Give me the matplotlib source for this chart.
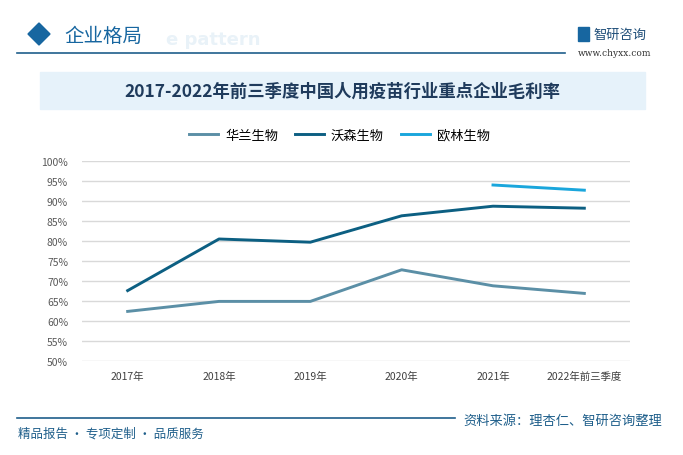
import matplotlib.pyplot as plt
from matplotlib.patches import Rectangle, Polygon

plt.rcParams['font.family'] = ['Noto Sans CJK SC', 'DejaVu Sans']

# data
years = ['2017年', '2018年', '2019年', '2020年', '2021年', '2022年前三季度']
hualan = [62.4, 64.9, 64.9, 72.8, 68.8, 66.9]
wosen = [67.6, 80.5, 79.7, 86.3, 88.7, 88.2]
oulin_years = ['2021年', '2022年前三季度']
oulin = [94.0, 92.7]
yticks = [50, 55, 60, 65, 70, 75, 80, 85, 90, 95, 100]

W, H = 683, 456
fig = plt.figure(figsize=(W / 100, H / 100), dpi=100)

def fx(x):
    return x / W

def fy(y):
    return 1 - y / H

# header
fig.text(fx(166), fy(40), 'e pattern', fontsize=13, color='#e9f2f8',
         fontweight='bold', va='center', ha='left', family='DejaVu Sans')
fig.patches.append(Polygon([[fx(28), fy(35)], [fx(39), fy(24)], [fx(50), fy(35)], [fx(39), fy(46)]],
                           closed=True, color='#1766a0', transform=fig.transFigure))
fig.text(fx(64), fy(36), '企业格局', fontsize=14, color='#1766a0', va='center', ha='left')
fig.add_artist(plt.Line2D([fx(17), fx(565)], [fy(54), fy(54)], color='#1f5f8b', lw=1.2))
fig.patches.append(Rectangle((fx(578), fy(42)), fx(11), 14 / H, color='#1766a0', transform=fig.transFigure))
fig.text(fx(593), fy(35), '智研咨询', fontsize=9.5, color='#1f4e79', va='center', ha='left')
fig.text(fx(578), fy(53), 'www.chyxx.com', fontsize=6.5, color='#333333', va='center', ha='left',
         family='DejaVu Serif')

# title box
fig.patches.append(Rectangle((fx(40), fy(110)), fx(605), 37 / H, color='#e6f2fa',
                             transform=fig.transFigure, zorder=0))
fig.text(fx(342), fy(92), '2017-2022年前三季度中国人用疫苗行业重点企业毛利率', fontsize=12.5,
         color='#1f3b5c', fontweight='bold', va='center', ha='center')

# chart
ax = fig.add_axes([fx(82), fy(362), fx(630 - 82), (362 - 162) / H])
c_hl, c_ws, c_ol = '#5b8fa6', '#0c5f82', '#1aa6dc'
x = list(range(len(years)))
ax.plot(x, hualan, color=c_hl, lw=2.1, label='华兰生物')
ax.plot(x, wosen, color=c_ws, lw=2.1, label='沃森生物')
ax.plot([years.index(y) for y in oulin_years], oulin, color=c_ol, lw=2.1, label='欧林生物')
ax.set_xlim(-0.5, len(years) - 0.5)
ax.set_ylim(50, 100)
ax.set_yticks(yticks)
ax.set_yticklabels([f'{v}%' for v in yticks])
ax.set_xticks(x)
ax.set_xticklabels(years)
ax.grid(axis='y', color='#d9d9d9', lw=1)
ax.set_axisbelow(True)
for s in ax.spines.values():
    s.set_visible(False)
ax.tick_params(length=0, labelsize=7.5, colors='#404040')
ax.tick_params(axis='y', pad=10, colors='#595959')
ax.tick_params(axis='x', pad=7)
ax.legend(loc='center', bbox_to_anchor=(0.47, 1.13), ncol=3, frameon=False,
          fontsize=9.5, handlelength=2.2, columnspacing=1.3, handletextpad=0.5)

# footer
fig.add_artist(plt.Line2D([fx(17), fx(455)], [fy(419), fy(419)], color='#1f5f8b', lw=1.2))
fig.text(fx(18), fy(434), '精品报告 · 专项定制 · 品质服务', fontsize=9, color='#1f5f8b',
         va='center', ha='left')
fig.text(fx(662), fy(421), '资料来源：理杏仁、智研咨询整理', fontsize=9.5, color='#1f5f8b',
         va='center', ha='right')

fig.savefig('out.png', dpi=100)
